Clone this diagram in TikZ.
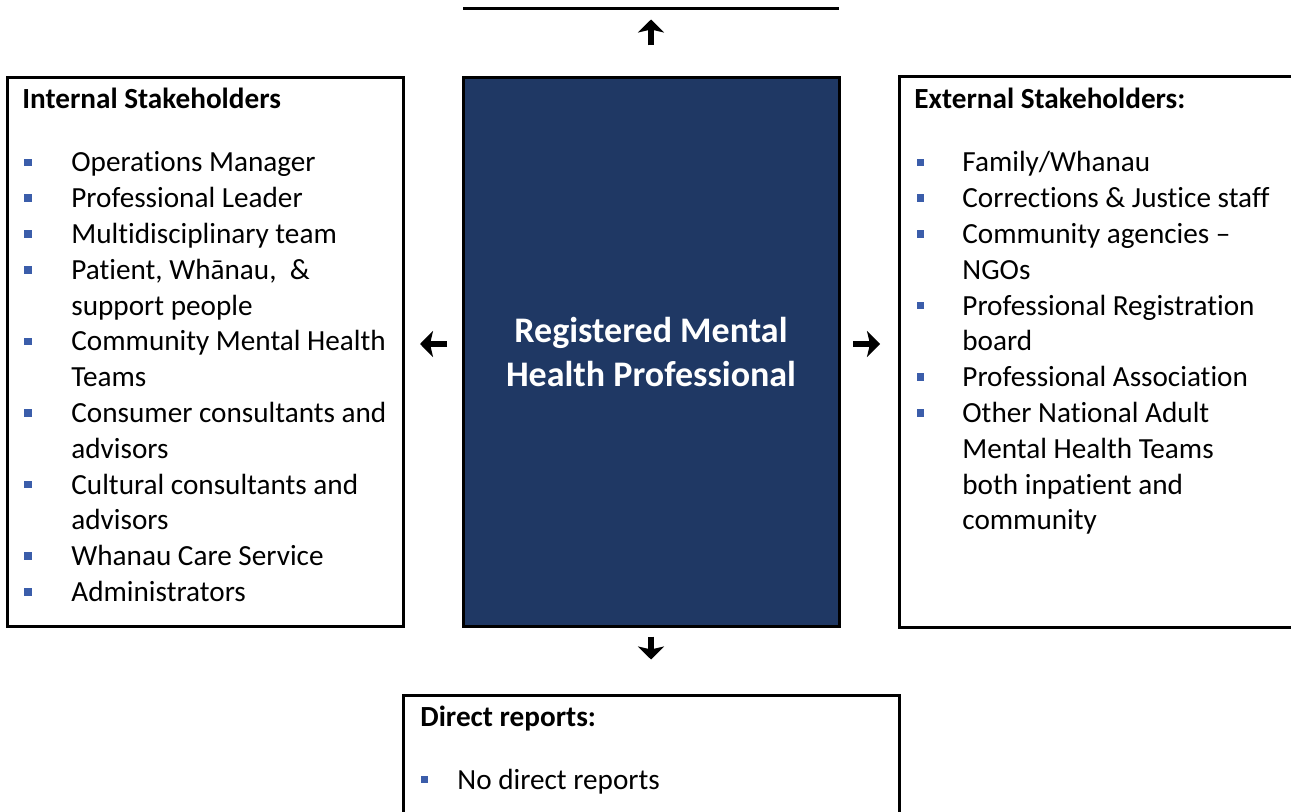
\documentclass[tikz,border=0pt]{standalone}
\usepackage{fontspec}
\setmainfont{Carlito}[Ligatures={NoCommon,NoContextual,NoRequired}, Contextuals=NoAlternate]
\usetikzlibrary{arrows.meta, positioning}
\definecolor{navyfill}{HTML}{1F3864}
\definecolor{bulletblue}{HTML}{3B5DAA}
\tikzset{
		box/.style = {draw, line width=1.5pt, inner sep=0pt, outer sep=0pt},
		entry/.style = {anchor=base west, inner sep=0pt, font=\fontsize{14.6pt}{17.9pt}\selectfont},
		heading/.style = {entry, font=\fontsize{14.6pt}{17.9pt}\selectfont\bfseries},
		bullet/.style = {fill=bulletblue, inner sep=0pt, minimum size=3.8pt},
		bigarrow/.style = {line width=3pt, -{Stealth[length=6.5pt, width=13pt, inset=1.5pt]}}
	}

\begin{document}
\begin{tikzpicture}[x=0.5pt, y=-0.5pt, node distance=30pt]
				\useasboundingbox (0,0) rectangle (1291,812);
				\clip (0,0) rectangle (1291,812);

				% boxes
				\node[box, minimum width=198pt, minimum height=274.5pt, anchor=north west] (int) at (7,77.5) {};
				\node[box, fill=navyfill, text=white, align=center, minimum width=188pt, minimum height=274.5pt,
				      font=\fontsize{18pt}{22pt}\selectfont\bfseries, right=of int] (rmhp) {Registered Mental\\Health Professional};
				\node[box, minimum width=250pt, minimum height=275pt, right=of rmhp]        (ext) {};
				\node[box, minimum width=248pt, minimum height=100pt, below=34.25pt of rmhp] (dir) {};

				% edge of the box above
				\coordinate (topL) at (463,8.7);
				\coordinate (topR) at (839,8.7);
				\draw[line width=1.5pt] (topL) -- (topR);

				% internal stakeholders
				\node[heading] (intT) at (22,109) {Internal Stakeholders};
				\foreach \txt [count=\i from 0] in {Operations Manager, Professional Leader, Multidisciplinary team,
				    {Patient, Whānau,\ \ \&}, support people, Community Mental Health, Teams,
				    Consumer consultants and, advisors, Cultural consultants and, advisors,
				    Whanau Care Service, Administrators}
				    \node[entry] (int\i) at (71, 172+35.8*\i) {\txt};
				\foreach \i in {0,1,2,3,5,7,9,11,12}
				    \node[bullet] at ([xshift=-21.5pt, yshift=4.75pt]int\i.base west) {};

				% external stakeholders
				\node[heading] (extT) at (914,108.5) {External Stakeholders:};
				\foreach \txt [count=\i from 0] in {Family/Whanau, Corrections \& Justice staff, Community agencies --,
				    NGOs, Professional Registration, board, Professional Association,
				    Other National Adult, Mental Health Teams, both inpatient and, community}
				    \node[entry] (ext\i) at (962, 172+35.8*\i) {\txt};
				\foreach \i in {0,1,2,4,6,7}
				    \node[bullet] at ([xshift=-20.75pt, yshift=4.75pt]ext\i.base west) {};

				% direct reports
				\node[heading] (dirT) at (420,726) {Direct reports:};
				\node[entry]   (dir0) at (457,789) {No direct reports};
				\node[bullet] at ([xshift=-16.25pt, yshift=4.75pt]dir0.base west) {};

				% arrows
				\coordinate (upA) at ([yshift=16pt]rmhp.north);
				\coordinate (upB) at ([yshift=29pt]rmhp.north);
				\coordinate (lfA) at ([xshift=-8pt, yshift=4pt]rmhp.west);
				\coordinate (lfB) at ([xshift=-21.5pt, yshift=4pt]rmhp.west);
				\coordinate (rtA) at ([xshift=7pt, yshift=4pt]rmhp.east);
				\coordinate (rtB) at ([xshift=20.5pt, yshift=4pt]rmhp.east);
				\coordinate (dnA) at ([yshift=-5pt]rmhp.south);
				\coordinate (dnB) at ([yshift=-16.5pt]rmhp.south);
				\draw[bigarrow] (upA) -- (upB);
				\draw[bigarrow] (lfA) -- (lfB);
				\draw[bigarrow] (rtA) -- (rtB);
				\draw[bigarrow] (dnA) -- (dnB);
			\end{tikzpicture}
\end{document}
